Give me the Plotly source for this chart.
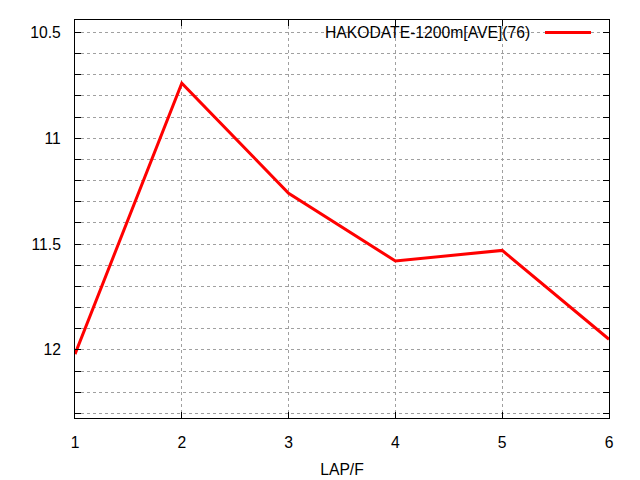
import plotly.graph_objects as go

laps = [1, 2, 3, 4, 5, 6]
times = [12.02, 10.74, 11.26, 11.58, 11.53, 11.95]
series_name = "HAKODATE-1200m[AVE](76)"
x_title = "LAP/F"

FONT = "Liberation Sans, Arial, sans-serif"

fig = go.Figure()
fig.add_trace(go.Scatter(x=laps, y=times, mode="lines",
                         line=dict(color="#ff0000", width=3),
                         name=series_name, showlegend=False))

axis_common = dict(
    showline=True, linecolor="black", linewidth=1, mirror="ticks",
    ticks="inside", ticklen=6, tickcolor="black", tickwidth=1,
    showgrid=True, gridcolor="#a0a0a0", griddash="3px,3px", gridwidth=1,
    zeroline=False, automargin=False,
    tickfont=dict(family=FONT, size=15.7, color="black"),
)

fig.update_xaxes(range=[1, 6], dtick=1, tick0=1, ticklabelstandoff=10,
                 title=dict(text=x_title, font=dict(family=FONT, size=15.7, color="black"), standoff=14),
                 **axis_common)
fig.update_yaxes(range=[12.322, 10.441], dtick=0.5, tick0=0, ticklabelstandoff=10,
                 minor=dict(dtick=0.1, tick0=0, ticks="inside", ticklen=6, tickcolor="black",
                            showgrid=True, gridcolor="#a0a0a0", griddash="3px,3px", gridwidth=1),
                 **axis_common)

# gnuplot-style key: text right-aligned, sample line to its right
key_y = 1 - (32 - 19.5) / 398.5
fig.add_annotation(xref="x domain", yref="y domain", x=(532 - 75) / 534, y=key_y,
                   text=series_name, showarrow=False, xanchor="right", yanchor="middle",
                   font=dict(family=FONT, size=15.7, color="black"))
fig.add_shape(type="line", xref="x domain", yref="y domain",
              x0=(545 - 75) / 534, x1=(591 - 75) / 534, y0=key_y, y1=key_y,
              line=dict(color="#ff0000", width=3))

fig.update_layout(width=640, height=480, margin=dict(l=75, r=31, t=20, b=62, pad=0),
                  paper_bgcolor="white", plot_bgcolor="white",
                  font=dict(family=FONT, size=15.7, color="black"))

fig.write_html("out.html", config={"displayModeBar": False},
               post_script="document.body.style.margin='0';document.body.style.padding='0';")
